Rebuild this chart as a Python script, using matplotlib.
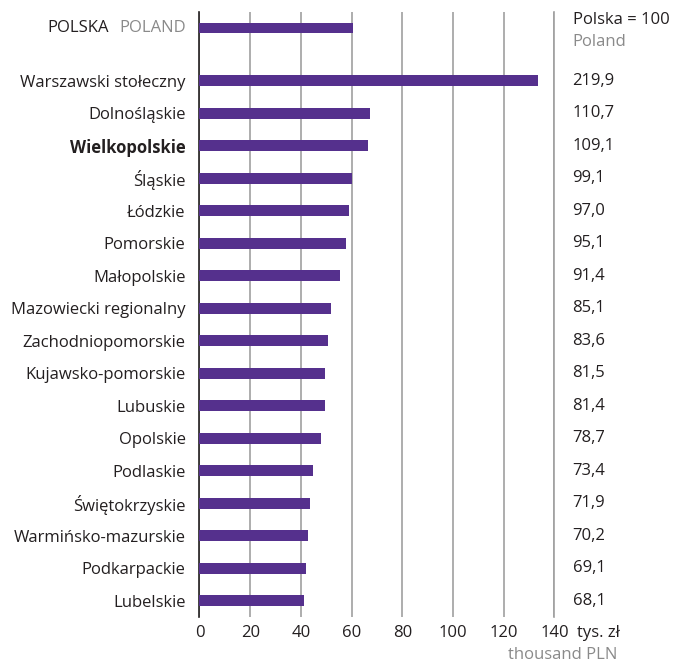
import numpy as np
import matplotlib.pyplot as plt

plt.rcParams['font.family'] = ['Open Sans', 'DejaVu Sans']

regions = ['Warszawski stołeczny', 'Dolnośląskie', 'Wielkopolskie', 'Śląskie',
           'Łódzkie', 'Pomorskie', 'Małopolskie', 'Mazowiecki regionalny',
           'Zachodniopomorskie', 'Kujawsko-pomorskie', 'Lubuskie', 'Opolskie',
           'Podlaskie', 'Świętokrzyskie', 'Warmińsko-mazurskie', 'Podkarpackie',
           'Lubelskie']
values = [133.4, 67.2, 66.3, 60.2, 58.9, 57.7, 55.5, 51.7, 50.7, 49.5, 49.4,
          47.8, 44.6, 43.6, 42.6, 41.9, 41.3]
index_pl = ['219,9', '110,7', '109,1', '99,1', '97,0', '95,1', '91,4', '85,1',
            '83,6', '81,5', '81,4', '78,7', '73,4', '71,9', '70,2', '69,1', '68,1']
poland_value = 60.7
xticks = [0, 20, 40, 60, 80, 100, 120, 140]

purple = '#55308d'
dark = '#231f20'
gray = '#8a8a8a'
fs = 12

fig = plt.figure(figsize=(6.73, 6.65), dpi=100)
ax = fig.add_axes([0.2964, 0.0722, 0.5275, 0.9098])

ypos = np.arange(len(regions))
y_pl = -1.63
bh = 0.33

ax.barh(ypos, values, height=bh, color=purple, zorder=3)
ax.barh([y_pl], [poland_value], height=bh, color=purple, zorder=3)

ax.set_xlim(0, 140)
ax.set_ylim(len(regions) - 0.5, y_pl - 0.49)
ax.set_xticks(xticks)
ax.set_xticklabels([str(v) for v in xticks], fontsize=fs, color=dark)
ax.tick_params(axis='x', length=0, pad=6)
ax.set_yticks(ypos)
ax.set_yticklabels(regions, fontsize=fs, color=dark)
ax.tick_params(axis='y', length=0, pad=10)
for lab in ax.get_yticklabels():
    if lab.get_text() == 'Wielkopolskie':
        lab.set_fontweight('bold')

for s in ['top', 'right', 'bottom']:
    ax.spines[s].set_visible(False)
ax.spines['left'].set_color(dark)
ax.spines['left'].set_linewidth(1.2)
ax.grid(axis='x', color='#a0a0a0', linewidth=1.2, zorder=0)
ax.set_axisbelow(True)
ax.axvline(140, color='#a0a0a0', linewidth=1.2, zorder=0, clip_on=False)

tr = ax.get_yaxis_transform()
ax.annotate('POLAND', xy=(0, y_pl), xycoords=tr, xytext=(-10, 0),
            textcoords='offset points', ha='right', va='center',
            fontsize=fs, color=gray)
ax.annotate('POLSKA', xy=(0, y_pl), xycoords=tr, xytext=(-65, 0),
            textcoords='offset points', ha='right', va='center',
            fontsize=fs, color=dark)

for y, t in zip(ypos, index_pl):
    ax.annotate(t, xy=(1, y), xycoords=tr, xytext=(13, 0),
                textcoords='offset points', ha='left', va='center',
                fontsize=fs, color=dark)
ax.annotate('Polska = 100', xy=(1, y_pl), xycoords=tr, xytext=(13, 6),
            textcoords='offset points', ha='left', va='center',
            fontsize=fs, color=dark)
ax.annotate('Poland', xy=(1, y_pl), xycoords=tr, xytext=(13, -10),
            textcoords='offset points', ha='left', va='center',
            fontsize=fs, color=gray)

ax.annotate('tys. zł', xy=(1, 0), xycoords='axes fraction', xytext=(16.5, -11.5),
            textcoords='offset points', ha='left', va='center',
            fontsize=fs, color=dark)
ax.annotate('thousand PLN', xy=(1, 0), xycoords='axes fraction', xytext=(45, -27.5),
            textcoords='offset points', ha='right', va='center',
            fontsize=fs, color=gray)

fig.savefig('out.png', dpi=100)
